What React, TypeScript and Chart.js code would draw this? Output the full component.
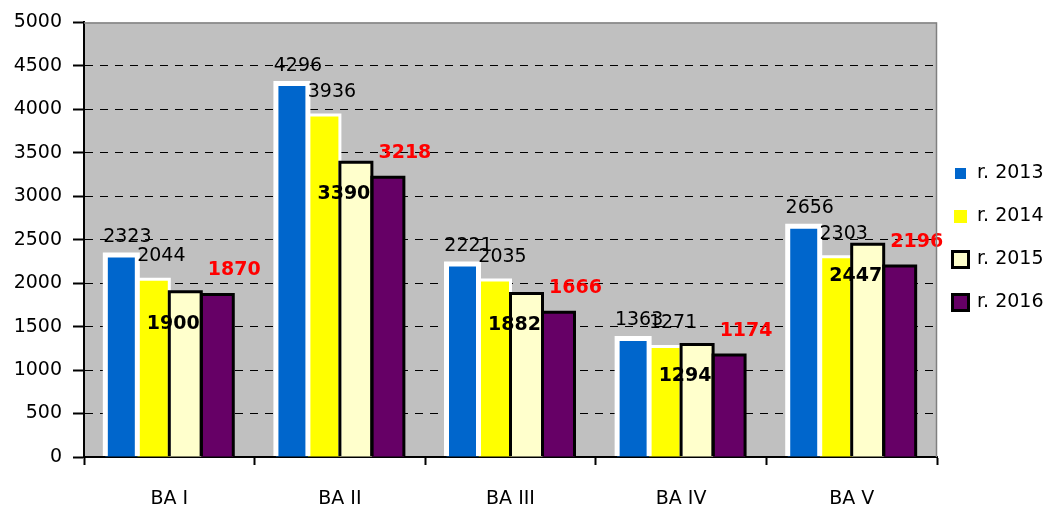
import React, { useEffect, useRef } from "react";
import { Chart, registerables } from "chart.js";

Chart.register(...registerables);

const categories = ["BA I", "BA II", "BA III", "BA IV", "BA V"];
const seriesNames = ["r. 2013", "r. 2014", "r. 2015", "r. 2016"];
const values2013 = [2323, 4296, 2221, 1363, 2656];
const values2014 = [2044, 3936, 2035, 1271, 2303];
const values2015 = [1900, 3390, 1882, 1294, 2447];
const values2016 = [1870, 3218, 1666, 1174, 2196];
const yTicks = [0, 500, 1000, 1500, 2000, 2500, 3000, 3500, 4000, 4500, 5000];

const FONT = "'DejaVu Sans', sans-serif";

const fills = ["#0066CC", "#FFFF00", "#FFFFCC", "#660066"];
const borders = ["#FFFFFF", "#FFFFFF", "#000000", "#000000"];
const borderWidths = [5, 3, 3, 3];

// label style per series: colour, weight, offset from bar top centre
const labelStyles = [
  { color: "#000000", weight: "normal", dx: 6, dy: -18 },
  { color: "#000000", weight: "normal", dx: 8, dy: -23 },
  { color: "#000000", weight: "bold", dx: -12, dy: 32 },
  { color: "#FF0000", weight: "bold", dx: 17, dy: -24 },
];

const plotBgPlugin = {
  id: "plotBg",
  beforeDraw(chart: any) {
    const { ctx, chartArea } = chart;
    ctx.save();
    ctx.fillStyle = "#C0C0C0";
    ctx.fillRect(chartArea.left, chartArea.top, chartArea.right - chartArea.left, chartArea.bottom - chartArea.top);
    ctx.restore();
  },
  afterDraw(chart: any) {
    const { ctx, chartArea } = chart;
    ctx.save();
    ctx.strokeStyle = "#808080";
    ctx.lineWidth = 1.5;
    ctx.beginPath();
    ctx.moveTo(chartArea.left, chartArea.top + 0.5);
    ctx.lineTo(chartArea.right - 0.5, chartArea.top + 0.5);
    ctx.lineTo(chartArea.right - 0.5, chartArea.bottom);
    ctx.stroke();
    ctx.restore();
  },
};

// Excel-like borders: centred on the bar edges, later series painted over earlier ones
const barBorderPlugin = {
  id: "barBorders",
  afterDatasetsDraw(chart: any) {
    const { ctx, chartArea } = chart;
    ctx.save();
    ctx.beginPath();
    ctx.rect(chartArea.left + 1, chartArea.top, chartArea.right - chartArea.left, chartArea.bottom - chartArea.top - 1);
    ctx.clip();
    chart.data.datasets.forEach((_ds: any, i: number) => {
      const meta = chart.getDatasetMeta(i);
      ctx.strokeStyle = borders[i];
      ctx.lineWidth = borderWidths[i];
      ctx.lineJoin = "miter";
      meta.data.forEach((el: any) => {
        const { x, y, base, width } = el.getProps(["x", "y", "base", "width"], true);
        const l = x - width / 2;
        const r = x + width / 2;
        ctx.beginPath();
        ctx.moveTo(l, base + 4);
        ctx.lineTo(l, y);
        ctx.lineTo(r, y);
        ctx.lineTo(r, base + 4);
        ctx.stroke();
      });
    });
    ctx.restore();
  },
};

const labelsPlugin = {
  id: "barLabels",
  afterDatasetsDraw(chart: any) {
    const { ctx } = chart;
    ctx.save();
    ctx.textAlign = "center";
    ctx.textBaseline = "middle";
    chart.data.datasets.forEach((ds: any, i: number) => {
      const meta = chart.getDatasetMeta(i);
      const st = labelStyles[i];
      ctx.fillStyle = st.color;
      ctx.font = `${st.weight} 19px ${FONT}`;
      meta.data.forEach((el: any, j: number) => {
        ctx.fillText(String(ds.data[j]), el.x + st.dx, el.y + st.dy);
      });
    });
    ctx.restore();
  },
};

const legendPlugin = {
  id: "customLegend",
  afterDraw(chart: any) {
    const { ctx, chartArea } = chart;
    const x0 = chartArea.right + 14;
    const y0 = 173;
    const gap = 43;
    const box = 19;
    ctx.save();
    seriesNames.forEach((name, i) => {
      const cy = y0 + i * gap;
      const bx = x0;
      const by = Math.round(cy - box / 2);
      const bw = borderWidths[i];
      if (borders[i] === "#FFFFFF") {
        const inset = i === 0 ? 4 : 3;
        ctx.fillStyle = fills[i];
        ctx.fillRect(bx + inset, by + inset, box - 2 * inset, box - 2 * inset);
      } else {
        ctx.fillStyle = fills[i];
        ctx.fillRect(bx, by, box, box);
        ctx.strokeStyle = borders[i];
        ctx.lineWidth = bw;
        ctx.strokeRect(bx + bw / 2, by + bw / 2, box - bw, box - bw);
      }
      ctx.fillStyle = "#000000";
      ctx.font = `19px ${FONT}`;
      ctx.textAlign = "left";
      ctx.textBaseline = "middle";
      ctx.fillText(name, bx + box + 7, cy);
    });
    ctx.restore();
  },
};

export default function App() {
  const canvasRef = useRef<HTMLCanvasElement | null>(null);

  useEffect(() => {
    if (!canvasRef.current) return;
    const seriesValues = [values2013, values2014, values2015, values2016];
    const chart = new Chart(canvasRef.current, {
      type: "bar",
      data: {
        labels: categories,
        datasets: seriesNames.map((name, i) => ({
          label: name,
          data: seriesValues[i],
          backgroundColor: fills[i],
          borderWidth: 0,
          inflateAmount: 0,
          categoryPercentage: 0.75,
          barPercentage: 1.0,
        })),
      },
      options: {
        animation: false,
        responsive: false,
        maintainAspectRatio: false,
        layout: { padding: { top: 20, right: 116, left: 0, bottom: 0 } },
        plugins: {
          legend: { display: false },
          tooltip: { enabled: false },
        },
        scales: {
          x: {
            type: "category",
            grid: {
              display: true,
              drawOnChartArea: false,
              drawTicks: true,
              tickLength: 8,
              tickColor: "#000000",
              tickWidth: 2,
              offset: true,
            },
            border: { display: true, color: "#000000", width: 2 },
            ticks: {
              color: "#000000",
              font: { family: FONT, size: 19 },
              padding: 23,
            },
            afterFit(scale: any) {
              scale.height = 55;
            },
          },
          y: {
            min: 0,
            max: 5000,
            afterBuildTicks(scale: any) {
              scale.ticks = yTicks.map((v) => ({ value: v }));
            },
            grid: {
              display: true,
              drawOnChartArea: true,
              drawTicks: true,
              tickLength: 11,
              lineWidth: 1,
              color: (ctx: any) =>
                ctx.tick && (ctx.tick.value === 0 || ctx.tick.value === 5000)
                  ? "rgba(0,0,0,0)"
                  : "#000000",
              tickColor: "#000000",
              tickWidth: 2,
              tickBorderDash: [],
            },
            border: { display: true, color: "#000000", width: 2, dash: [8, 7] },
            ticks: {
              color: "#000000",
              font: { family: FONT, size: 19 },
              padding: 11,
              callback: (v: any) => String(v),
            },
            afterFit(scale: any) {
              scale.width = 84;
            },
          },
        },
      },
      plugins: [plotBgPlugin, barBorderPlugin, labelsPlugin, legendPlugin],
    });
    return () => chart.destroy();
  }, []);

  return (
    <div style={{ position: "absolute", left: 0, top: 0, width: 1053, height: 512, background: "#ffffff" }}>
      <canvas ref={canvasRef} width={1053} height={512} style={{ display: "block" }} />
    </div>
  );
}
